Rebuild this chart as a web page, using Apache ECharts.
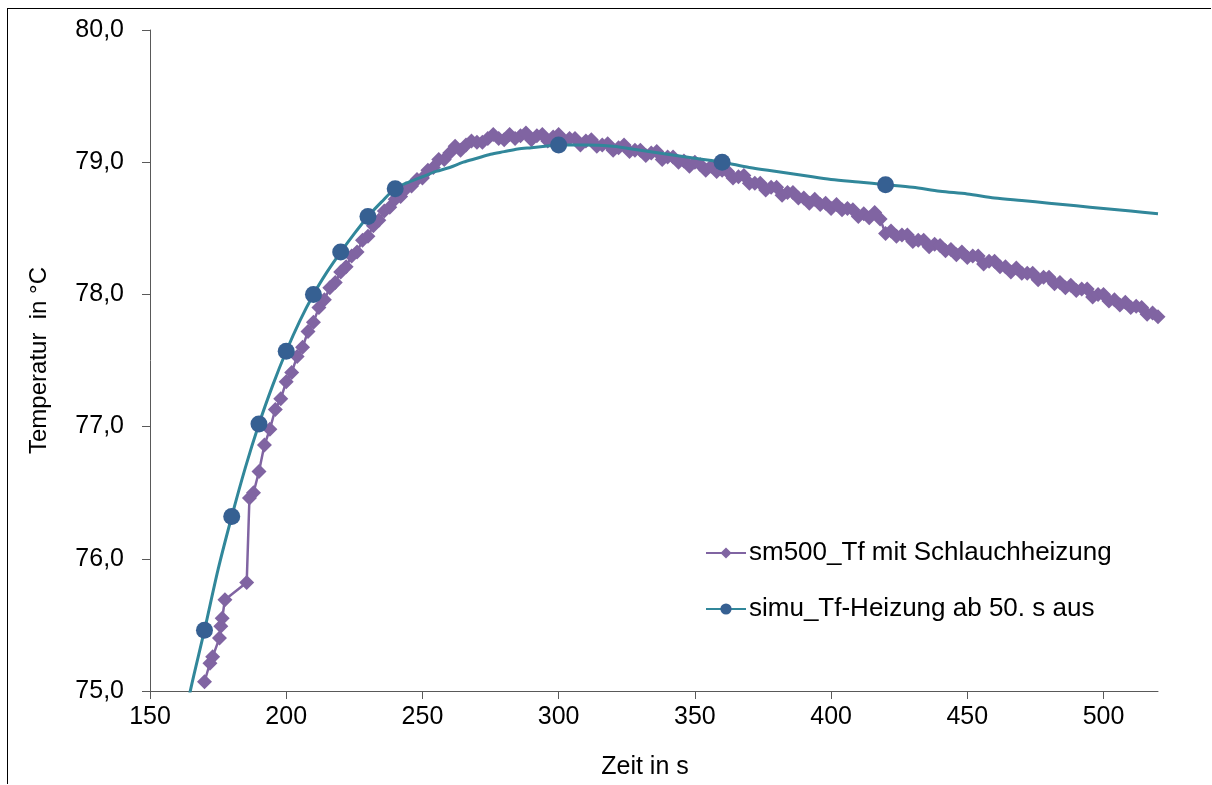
<!DOCTYPE html>
<html>
<head>
<meta charset="utf-8">
<script src="https://cdn.jsdelivr.net/npm/echarts@6/dist/echarts.min.js"></script>
<style>
html,body{margin:0;padding:0;background:#fff;}
#frame{position:absolute;left:7px;top:8px;width:1204px;height:776px;border-left:1px solid #000;border-top:1px solid #000;box-sizing:border-box;}
#chart{position:absolute;left:0;top:0;width:1212px;height:785px;}
</style>
</head>
<body>
<div id="frame"></div>
<div id="chart"></div>
<script>
// ---- data ----
const measName = 'sm500_Tf mit Schlauchheizung';
const simuName = 'simu_Tf-Heizung ab 50. s aus';

const measTime = [170,172,173,175.5,176,176.5,177.5,185.5,186.5,
188,190,192,194,196,198,200,202,204,206,208,210,212,214,216,218,220,222,224,226,228,230,
232,234,236,238,240,242,244,246,248,250,252,254,256,258,260,262,264,266,268,270,
272,274,276,278,280,282,284,286,288,290,292,294,296,298,300,302,304,306,308,310,
312,314,316,318,320,322,324,326,328,330,332,334,336,338,340,342,344,346,348,350,
352,354,356,358,360,362,364,366,368,370,372,374,376,378,380,382,384,386,388,390,
392,394,396,398,400,402,404,406,408,410,412,414,416,418,420,422,424,426,428,430,
432,434,436,438,440,442,444,446,448,450,452,454,456,458,460,462,464,466,468,470,
472,474,476,478,480,482,484,486,488,490,492,494,496,498,500,502,504,506,508,510,
512,514,516,518,520];
const measTemp = [75.07,75.21,75.26,75.40,75.49,75.55,75.69,75.82,76.46,
76.50,76.66,76.86,76.98,77.13,77.21,77.34,77.41,77.53,77.60,77.72,77.79,77.90,77.96,78.05,78.09,78.17,78.21,78.29,78.32,78.41,78.44,
78.52,78.56,78.63,78.66,78.72,78.74,78.80,78.82,78.87,78.88,78.94,78.96,79.02,79.02,79.07,79.12,79.09,79.13,79.16,79.15,
79.15,79.18,79.21,79.18,79.17,79.21,79.18,79.20,79.22,79.17,79.20,79.21,79.16,79.19,79.21,79.16,79.18,79.18,79.13,79.16,
79.17,79.12,79.13,79.14,79.09,79.11,79.13,79.08,79.09,79.09,79.05,79.07,79.08,79.02,79.04,79.04,79.00,79.01,78.97,79.00,
78.98,78.94,78.97,78.93,78.94,78.93,78.88,78.89,78.90,78.84,78.84,78.84,78.79,78.81,78.81,78.75,78.77,78.77,78.73,78.73,
78.69,78.72,78.68,78.69,78.65,78.68,78.64,78.65,78.64,78.59,78.61,78.58,78.62,78.57,78.46,78.48,78.44,78.45,78.45,78.40,
78.41,78.41,78.36,78.38,78.37,78.33,78.34,78.30,78.32,78.28,78.29,78.29,78.23,78.25,78.25,78.21,78.21,78.17,78.20,78.16,
78.16,78.16,78.11,78.13,78.13,78.08,78.09,78.05,78.07,78.03,78.04,78.04,77.98,78.00,78.00,77.95,77.96,77.92,77.94,77.90,
77.91,77.90,77.85,77.86,77.83];

const simuTime = [160,165,170,175,180,185,190,195,200,205,210,215,220,225,230,235,240,245,250,255,260,265,270,275,280,285,290,295,300,
310,320,330,340,350,360,370,380,390,400,410,420,430,440,450,460,470,480,490,500,510,520];
const simuTemp = [74.52,75.02,75.46,75.92,76.32,76.69,77.02,77.31,77.57,77.80,78.00,78.17,78.32,78.46,78.59,78.70,78.80,78.85,78.89,78.93,78.96,79.00,79.03,79.06,79.08,79.10,79.11,79.12,79.13,
79.13,79.12,79.09,79.06,79.03,79.00,78.96,78.93,78.90,78.87,78.85,78.83,78.81,78.78,78.76,78.73,78.71,78.69,78.67,78.65,78.63,78.61];
const simuMarkerTimes = [170,180,190,200,210,220,230,240,300,360,420];

const xTicks = [150,200,250,300,350,400,450,500];
const yTicks = [75,76,77,78,79,80];

// ---- chart ----
const FONT = "'Liberation Sans', Arial, sans-serif";
const chart = echarts.init(document.getElementById('chart'), null, {renderer:'canvas'});

const measData = measTime.map((t,i)=>[t, measTemp[i]]);
const simuData = simuTime.map((t,i)=> simuMarkerTimes.indexOf(t) >= 0
  ? {value:[t, simuTemp[i]]}
  : {value:[t, simuTemp[i]], symbol:'none'});

chart.setOption({
  animation:false,
  backgroundColor:'transparent',
  textStyle:{fontFamily:FONT},
  grid:{left:150, right:54, top:30, bottom:94, containLabel:false},
  legend:{
    orient:'vertical',
    left:705, top:540, padding:0,
    itemWidth:40, itemHeight:14, itemGap:30,
    textStyle:{fontFamily:FONT, fontSize:26, color:'#000', padding:[0,0,0,-2]},
    data:[measName, simuName]
  },
  xAxis:{
    type:'value', min:150, max:520,
    name:'Zeit in s', nameLocation:'middle', nameGap:64,
    nameTextStyle:{fontFamily:FONT, fontSize:25, color:'#000', padding:[0,18,0,0]},
    axisLine:{show:true, lineStyle:{color:'#595959', width:1}},
    axisTick:{show:true, length:8, inside:false, customValues:xTicks, lineStyle:{color:'#595959'}},
    axisLabel:{customValues:xTicks, margin:14, fontFamily:FONT, fontSize:25, color:'#000'},
    splitLine:{show:false}
  },
  yAxis:{
    type:'value', min:75, max:80, interval:1,
    name:'Temperatur  in °C', nameLocation:'middle', nameGap:99, nameRotate:90,
    nameTextStyle:{fontFamily:FONT, fontSize:24, color:'#000'},
    axisLine:{show:true, lineStyle:{color:'#595959', width:1}},
    axisTick:{show:true, length:8, inside:false, customValues:yTicks, lineStyle:{color:'#595959'}},
    axisLabel:{customValues:yTicks, margin:26, fontFamily:FONT, fontSize:25, color:'#000',
      formatter:v=>v.toFixed(1).replace('.',',')},
    splitLine:{show:false}
  },
  series:[
    {
      name:measName, type:'line', data:measData,
      symbol:'diamond', symbolSize:15, showSymbol:true, showAllSymbol:true,
      lineStyle:{color:'#8064A2', width:2.5},
      itemStyle:{color:'#8064A2'},
      clip:true, z:2
    },
    {
      name:simuName, type:'line', data:simuData, smooth:0.3,
      symbol:'circle', symbolSize:17, showSymbol:true, showAllSymbol:true,
      lineStyle:{color:'#31879A', width:3},
      itemStyle:{color:'#366092'},
      clip:true, z:3
    }
  ]
});
</script>
</body>
</html>
